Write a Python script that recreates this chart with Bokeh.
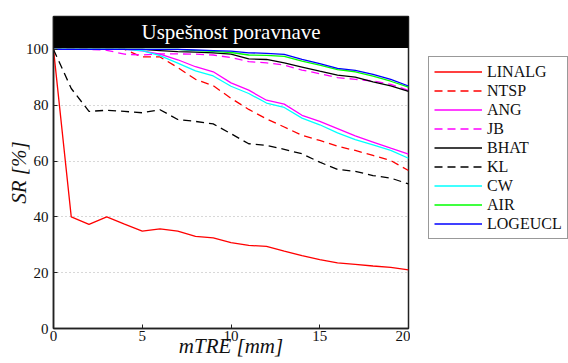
from bokeh.plotting import figure
from bokeh.layouts import row
from bokeh.models import Range1d, FixedTicker, Label, Legend, LegendItem, BoxAnnotation
from bokeh.embed import file_html
from bokeh.resources import INLINE

mtre = list(range(0, 21))
LINALG = [100, 40, 37.3, 40, 37.4, 34.9, 35.7, 34.9, 33, 32.5, 30.8, 29.8, 29.4, 27.7, 26.1, 24.7, 23.5, 23, 22.4, 21.9, 21]
NTSP = [100, 100, 100, 100, 100, 97.3, 97.3, 93.5, 89.3, 87, 82.5, 78.5, 75.1, 72.2, 69.2, 67.4, 65.3, 63.8, 62, 60.2, 56.6]
ANG = [100, 100, 100, 100, 100, 99.5, 98.3, 96.3, 93.8, 92, 88, 85.4, 81.8, 80.4, 76.4, 74.2, 71.6, 69, 66.8, 64.6, 62.5]
JB = [100, 100, 100, 99.7, 98.3, 98, 98.4, 98.4, 98.3, 98, 97.1, 95.6, 95.2, 94.4, 92.6, 91.3, 89.9, 89.3, 88.7, 87.5, 85.3]
BHAT = [100, 100, 100, 100, 100, 100, 99.6, 99.2, 99, 98.8, 98.3, 96.6, 96.4, 95.2, 93.7, 92.2, 90.8, 90.1, 88.4, 86.9, 85]
KL = [100, 86, 77.8, 78.2, 77.8, 77.3, 78.4, 74.9, 74.2, 73.3, 69.8, 66.2, 65.6, 64.2, 62.6, 59.6, 57, 56.3, 54.8, 53.9, 51.8]
CW = [100, 100, 100, 100, 100, 99.6, 97.8, 95.1, 92.3, 90.5, 86.8, 84.2, 80.8, 79.2, 75.4, 73, 70.1, 67.7, 65.8, 63.8, 61]
AIR = [100, 100, 100, 100, 100, 100, 100, 100, 99.6, 99.3, 98.9, 98, 97.9, 97.5, 95.8, 94.4, 92.8, 92, 90.4, 88.6, 86.5]
LOGEUCL = [100, 100, 100, 100, 100, 100, 100, 100, 99.8, 99.6, 99.4, 98.8, 98.6, 98.2, 96.4, 94.9, 93.2, 92.5, 91.1, 89.3, 86.9]

x_ticks = [0, 5, 10, 15, 20]
y_ticks = [0, 20, 40, 60, 80, 100]
title_text = "Uspešnost poravnave"
x_label = "mTRE [mm]"
y_label = "SR [%]"

series = [
    ("LINALG", LINALG, "#ff0000", "solid"),
    ("NTSP", NTSP, "#ff0000", "8 5"),
    ("ANG", ANG, "#ff00ff", "solid"),
    ("JB", JB, "#ff00ff", "8 5"),
    ("BHAT", BHAT, "#000000", "solid"),
    ("KL", KL, "#000000", "8 5"),
    ("CW", CW, "#00ffff", "solid"),
    ("AIR", AIR, "#00ff00", "solid"),
    ("LOGEUCL", LOGEUCL, "#0000ff", "solid"),
]

FONT = "Liberation Serif"
AXFONT = "'Liberation Serif', 'Times New Roman', serif"
H = 362

# ---- main figure ----
p = figure(width=410, height=H, output_backend="svg", toolbar_location=None,
           x_range=Range1d(0, 20), y_range=Range1d(0, 111.8),
           min_border_left=53, min_border_right=2, min_border_top=16, min_border_bottom=H - 328)
p.background_fill_color = "white"
p.border_fill_color = "white"
p.outline_line_color = "#222222"
p.outline_line_width = 1.5

for name, ys, color, dash in series:
    p.line(mtre, ys, line_color=color, line_width=1.3, line_dash=dash)

p.xaxis.ticker = FixedTicker(ticks=x_ticks)
p.yaxis.ticker = FixedTicker(ticks=y_ticks)
p.axis.axis_line_color = "#222222"
p.axis.axis_line_width = 1.5
p.axis.major_tick_in = 4
p.axis.major_tick_out = 0
p.axis.minor_tick_line_color = None
p.axis.major_tick_line_color = "#222222"
p.axis.major_label_text_font = AXFONT
p.axis.major_label_text_font_size = "15px"
p.axis.major_label_text_color = "#111111"
p.axis.axis_label_text_font = AXFONT
p.axis.axis_label_text_font_size = "21px"
p.axis.axis_label_text_font_style = "italic"
p.axis.axis_label_text_color = "#111111"
p.xaxis.major_label_standoff = 2
p.yaxis.major_label_standoff = 5
p.xaxis.axis_label = x_label
p.yaxis.axis_label = y_label
p.xaxis.axis_label_standoff = -10
p.yaxis.axis_label_standoff = -8

p.xgrid.grid_line_color = None
p.ygrid.ticker = FixedTicker(ticks=[20, 40, 60, 80])
p.ygrid.grid_line_color = "#b0b0b0"
p.ygrid.grid_line_dash = "1 3"
p.ygrid.grid_line_width = 1

# title bar inside the top of the frame
p.add_layout(BoxAnnotation(bottom=100.55, fill_color="black", fill_alpha=1.0, line_color=None))
p.add_layout(Label(x=10, y=106.1, text=title_text, text_align="center", text_baseline="middle",
                   text_color="white", text_font=FONT, text_font_size="21px"))

# ---- legend figure ----
lf = figure(width=158, height=H, output_backend="svg", toolbar_location=None,
            x_range=Range1d(-100, -99), y_range=Range1d(0, 1), x_axis_type=None, y_axis_type=None,
            min_border_left=0, min_border_right=0, min_border_top=0, min_border_bottom=0)
lf.background_fill_color = "white"
lf.border_fill_color = "white"
lf.outline_line_color = None
lf.grid.visible = False
items = []
for name, ys, color, dash in series:
    r = lf.line(mtre, ys, line_color=color, line_width=1.3, line_dash=dash)
    items.append(LegendItem(label=name, renderers=[r]))

legend = Legend(items=items, location=(18, 89), orientation="vertical")
legend.label_text_font = FONT
legend.label_text_font_size = "16px"
legend.label_text_color = "#111111"
legend.glyph_width = 48
legend.glyph_height = 19
legend.label_height = 19
legend.label_standoff = 5
legend.spacing = 0
legend.padding = 5
legend.margin = 0
legend.border_line_color = "#333333"
legend.border_line_width = 1
legend.background_fill_alpha = 1
lf.add_layout(legend, "center")

layout = row(p, lf, spacing=0)
open("out.html", "w").write(file_html(layout, INLINE))
